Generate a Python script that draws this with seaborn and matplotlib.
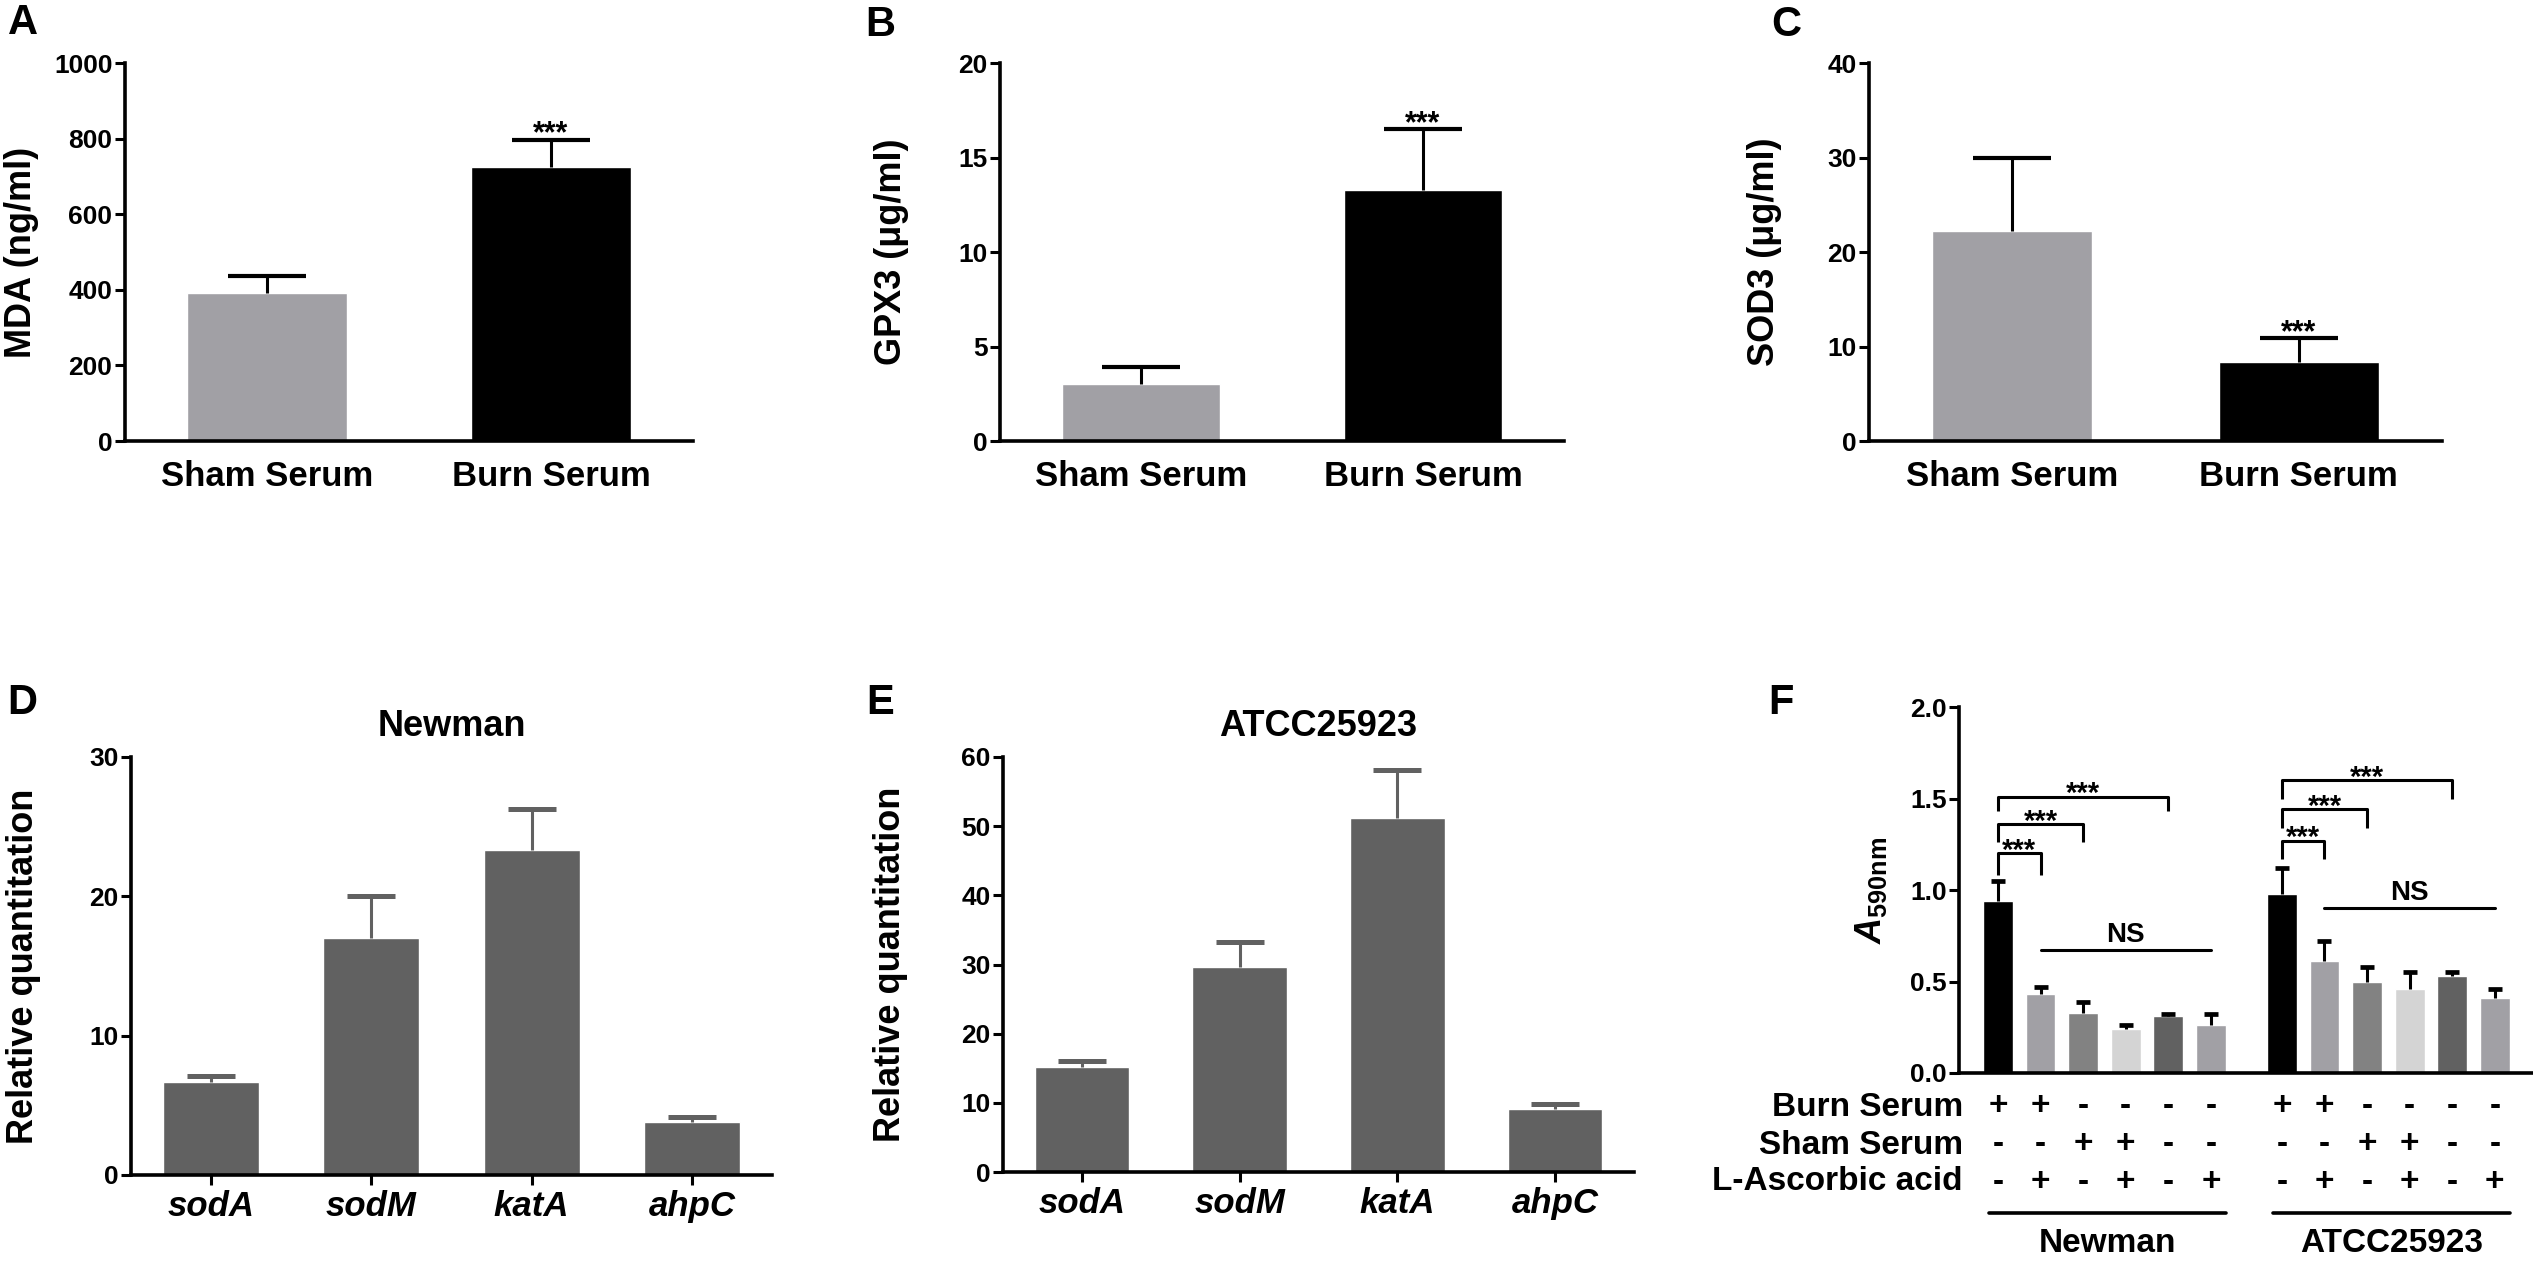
import matplotlib
matplotlib.use("Agg")
import numpy as np
import pandas as pd
import seaborn as sns
import matplotlib.pyplot as plt
import matplotlib.transforms as mtransforms

# ---------------- data ----------------
serum_groups = ["Sham Serum", "Burn Serum"]
mda_mean = [392, 725]
mda_sd = [45, 72]
gpx3_mean = [3.0, 13.3]
gpx3_sd = [0.9, 3.2]
sod3_mean = [22.2, 8.4]
sod3_sd = [7.8, 2.5]

genes = ["sodA", "sodM", "katA", "ahpC"]
newman_rq = [6.7, 17.0, 23.3, 3.8]
newman_rq_sd = [0.4, 3.0, 3.0, 0.35]
atcc_rq = [15.2, 29.7, 51.2, 9.1]
atcc_rq_sd = [0.9, 3.6, 6.9, 0.8]

strains = ["Newman", "ATCC25923"]
newman_a590 = [0.94, 0.43, 0.33, 0.24, 0.31, 0.26]
newman_a590_sd = [0.11, 0.04, 0.06, 0.02, 0.01, 0.06]
atcc_a590 = [0.98, 0.61, 0.50, 0.46, 0.53, 0.41]
atcc_a590_sd = [0.14, 0.11, 0.08, 0.09, 0.02, 0.05]
burn_serum = ["+", "+", "-", "-", "-", "-"]
sham_serum = ["-", "-", "+", "+", "-", "-"]
ascorbic = ["-", "+", "-", "+", "-", "+"]
treat_rows = ["Burn Serum", "Sham Serum", "L-Ascorbic acid"]

# ---------------- style ----------------
sns.set_theme(style="ticks")
plt.rcParams["font.family"] = ["Liberation Sans", "DejaVu Sans"]
plt.rcParams["font.weight"] = "bold"
plt.rcParams["axes.labelweight"] = "bold"
plt.rcParams["text.color"] = "black"
plt.rcParams["axes.labelcolor"] = "black"
plt.rcParams["xtick.color"] = "black"
plt.rcParams["ytick.color"] = "black"
plt.rcParams["mathtext.fontset"] = "custom"
plt.rcParams["mathtext.rm"] = "Liberation Sans:bold"
plt.rcParams["mathtext.it"] = "Liberation Sans:italic:bold"
plt.rcParams["mathtext.bf"] = "Liberation Sans:bold"

W, H = 2533, 1262
fig = plt.figure(figsize=(W / 100, H / 100), dpi=100)
fig.patch.set_facecolor("white")

GRAY = "#a1a0a5"
DARK = "#616161"
f_colors = ["#000000", "#a1a0a5", "#828282", "#d4d4d4", "#616161", "#a1a0a5"]


def add_axes(l, r, t, b):
    return fig.add_axes([l / W, 1 - b / H, (r - l) / W, (b - t) / H])


def style(ax, xticks=False):
    for s in ["top", "right"]:
        ax.spines[s].set_visible(False)
    for s in ["left", "bottom"]:
        ax.spines[s].set_linewidth(2.6)
        ax.spines[s].set_color("black")
    ax.tick_params(axis="y", length=7, width=2.2, labelsize=19, pad=2,
                   color="black", labelcolor="black", direction="out")
    if xticks:
        ax.tick_params(axis="x", length=7, width=2.2, labelsize=25, pad=4,
                       color="black", labelcolor="black", direction="out")
    else:
        ax.tick_params(axis="x", length=0, labelsize=25, pad=14, labelcolor="black")
    for lab in ax.get_yticklabels() + ax.get_xticklabels():
        lab.set_fontweight("bold")
    ax.set_facecolor("white")


def upper_errorbars(ax, x, y, err, color, capsize, capthick):
    eb = ax.errorbar(x, y, yerr=[np.zeros(len(y)), err], fmt="none",
                     ecolor=color, elinewidth=2.2, capsize=capsize,
                     capthick=capthick, zorder=3)
    # hide the cap sitting at the bar top (lower side, zero length)
    for cl in eb[1]:
        yd = np.asarray(cl.get_ydata(), dtype=float)
        if np.allclose(yd, np.asarray(y, dtype=float)):
            cl.set_visible(False)
    return eb


def set_ylab(ax, text, xpix, l, r):
    ax.set_ylabel(text, fontsize=26, fontweight="bold", color="black")
    ax.yaxis.set_label_coords((xpix - l) / (r - l), 0.5)
    ax.yaxis.label.set_verticalalignment("center")


def serum_panel(l, r, t, b, means, sds, ylim, ticks, ylabel, labx, star_idx):
    ax = add_axes(l, r, t, b)
    df = pd.DataFrame({"group": serum_groups, "value": means})
    sns.barplot(data=df, x="group", y="value", hue="group",
                palette=[GRAY, "black"], width=0.56, legend=False,
                errorbar=None, ax=ax, saturation=1)
    upper_errorbars(ax, np.arange(len(means)), means, sds, "black", 28, 3)
    ax.set_xlim(-0.5, 1.5)
    ax.set_ylim(*ylim)
    ax.set_yticks(ticks)
    ax.set_xlabel("")
    style(ax)
    set_ylab(ax, ylabel, labx, l, r)
    top = means[star_idx] + sds[star_idx]
    ax.annotate("***", xy=(star_idx, top), xytext=(0, -2), textcoords="offset points",
                ha="center", va="baseline", fontsize=22, fontweight="bold")
    return ax


# ---------------- row 1 ----------------
serum_panel(125, 693, 63, 441, mda_mean, mda_sd, (0, 1000),
            [0, 200, 400, 600, 800, 1000], "MDA (ng/ml)", 22, 1)
serum_panel(1000, 1564, 63, 441, gpx3_mean, gpx3_sd, (0, 20),
            [0, 5, 10, 15, 20], "GPX3 (\u03bcg/ml)", 892, 1)
serum_panel(1869, 2442, 63, 441, sod3_mean, sod3_sd, (0, 40),
            [0, 10, 20, 30, 40], "SOD3 (\u03bcg/ml)", 1764, 1)


# ---------------- row 2: D, E ----------------
def gene_panel(l, r, t, b, means, sds, ylim, ticks, title, labx):
    ax = add_axes(l, r, t, b)
    df = pd.DataFrame({"gene": genes, "value": means})
    sns.barplot(data=df, x="gene", y="value", color=DARK, width=0.6,
                errorbar=None, ax=ax, saturation=1)
    upper_errorbars(ax, np.arange(len(means)), means, sds, DARK, 17, 3.6)
    ax.set_xlim(-0.5, 3.5)
    ax.set_ylim(*ylim)
    ax.set_yticks(ticks)
    ax.set_xlabel("")
    style(ax, xticks=True)
    for lab in ax.get_xticklabels():
        lab.set_fontstyle("italic")
        lab.set_fontweight("bold")
    set_ylab(ax, "Relative quantitation", labx, l, r)
    fig.text(((l + r) / 2) / W, 1 - 727 / H, title, ha="center", va="center",
             fontsize=26, fontweight="bold", color="black")
    return ax


gene_panel(131, 772, 757, 1175, newman_rq, newman_rq_sd, (0, 30),
           [0, 10, 20, 30], "Newman", 24)
gene_panel(1003, 1634, 757, 1172, atcc_rq, atcc_rq_sd, (0, 60),
           [0, 10, 20, 30, 40, 50, 60], "ATCC25923", 890)

# ---------------- row 2: F ----------------
fl, fr, ft, fb = 1959, 2532, 707, 1073
axf = add_axes(fl, fr, ft, fb)
n_cond = len(newman_a590)
gap = 1.667
pos_new = np.arange(n_cond, dtype=float)
pos_atcc = np.arange(n_cond, dtype=float) + n_cond - 1 + gap
positions = np.concatenate([pos_new, pos_atcc])
values = newman_a590 + atcc_a590
sds = newman_a590_sd + atcc_a590_sd
conds = [f"c{i}" for i in range(n_cond)] * 2
dff = pd.DataFrame({"pos": positions, "value": values, "cond": conds})
sns.barplot(data=dff, x="pos", y="value", hue="cond",
            palette={f"c{i}": f_colors[i] for i in range(n_cond)},
            native_scale=True, dodge=False, width=0.7, legend=False,
            errorbar=None, ax=axf, saturation=1)
upper_errorbars(axf, positions, values, sds, "black", 5, 3.4)
axf.set_xlim(-0.915, 12.54)
axf.set_ylim(0, 2.0)
axf.set_yticks([0.0, 0.5, 1.0, 1.5, 2.0])
axf.set_yticklabels(["0.0", "0.5", "1.0", "1.5", "2.0"])
axf.set_xticks([])
axf.set_xlabel("")
style(axf)
set_ylab(axf, r"$A_{\mathrm{590nm}}$", 1871, fl, fr)

# significance brackets: (start idx, end idx, top y, leg drop)
brackets = [(0, 1, 1.20, 0.12), (0, 2, 1.36, 0.10), (0, 4, 1.51, 0.08)]
brackets_atcc = [(0, 1, 1.27, 0.10), (0, 2, 1.44, 0.10), (0, 4, 1.60, 0.10)]
for base, brs in [(pos_new, brackets), (pos_atcc, brackets_atcc)]:
    for i0, i1, ytop, drop in brs:
        x0, x1 = base[i0], base[i1]
        axf.plot([x0, x0, x1, x1], [ytop - drop, ytop, ytop, ytop - drop],
                 color="black", lw=2.2, clip_on=False, solid_capstyle="butt")
        axf.annotate("***", xy=((x0 + x1) / 2, ytop), xytext=(0, -4),
                     textcoords="offset points", ha="center", va="baseline",
                     fontsize=21, fontweight="bold")
ns_lines = [(pos_new, 0.67), (pos_atcc, 0.90)]
for base, yl in ns_lines:
    axf.plot([base[1], base[5]], [yl, yl], color="black", lw=2.2, clip_on=False)
    axf.annotate("NS", xy=((base[1] + base[5]) / 2, yl), xytext=(0, 6),
                 textcoords="offset points", ha="center", va="baseline",
                 fontsize=20, fontweight="bold")

# treatment table below F
trans = mtransforms.blended_transform_factory(axf.transData, fig.transFigure)
row_y = [1107, 1145, 1182]
for row_name, signs, ypix in zip(treat_rows, [burn_serum, sham_serum, ascorbic], row_y):
    fig.text(1963 / W, 1 - ypix / H, row_name, ha="right", va="center",
             fontsize=24, fontweight="bold")
    for base in (pos_new, pos_atcc):
        for xp, s in zip(base, signs):
            axf.text(xp, 1 - ypix / H, s, transform=trans, ha="center",
                     va="center", fontsize=24, fontweight="bold", clip_on=False)
for base, name in zip((pos_new, pos_atcc), strains):
    x0, x1 = base[0] - 0.2, base[-1] + 0.35
    axf.plot([x0, x1], [1 - 1213 / H] * 2, color="black", lw=2.6,
             transform=trans, clip_on=False)
    axf.text((x0 + x1) / 2, 1 - 1243 / H, name, transform=trans, ha="center",
             va="center", fontsize=24, fontweight="bold", clip_on=False)

# panel letters
for letter, (px, py) in zip("ABCDEF", [(23, 23), (880, 25), (1786, 25),
                                        (22, 703), (880, 703), (1781, 703)]):
    fig.text(px / W, 1 - py / H, letter, ha="center", va="center",
             fontsize=30, fontweight="bold")

fig.savefig("out.png", dpi=100, facecolor="white")
